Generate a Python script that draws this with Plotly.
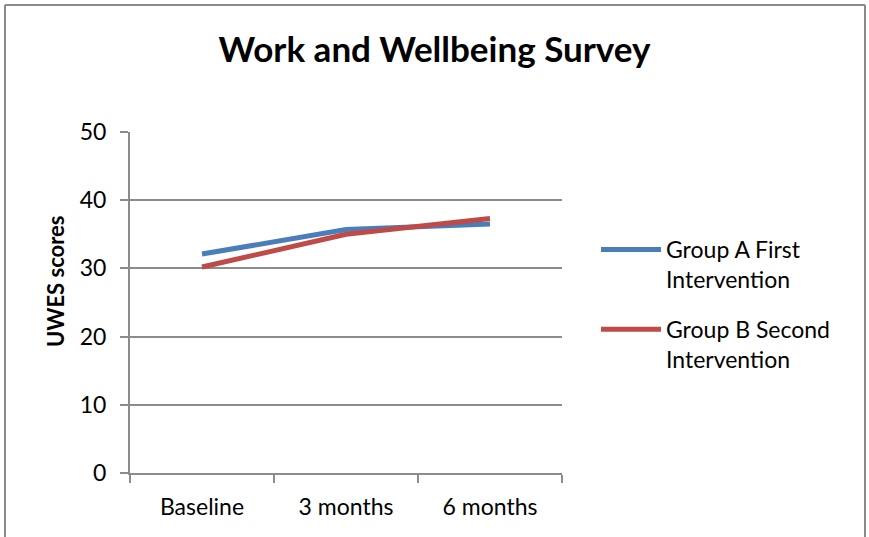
import plotly.graph_objects as go

categories = ["Baseline", "3 months", "6 months"]
group_a = [32.1, 35.7, 36.5]
group_b = [30.2, 35.0, 37.3]
series_names = ["Group A First<br>Intervention", "Group B Second<br>Intervention"]
y_ticks = [0, 10, 20, 30, 40, 50]

W, H = 869, 537
L, R, T, B = 130, 307, 132, 64
pw, ph = W - L - R, H - T - B

def px_x(x):
    return (x - L) / pw

def px_y(y):
    return (H - B - y) / ph

FONT = "Lato"
GRID = "#8c8c8c"
FS = 23

fig = go.Figure()
fig.add_trace(go.Scatter(x=categories, y=group_a, mode="lines", name=series_names[0],
                         legendgroup="a", line=dict(color="#4A7EBB", width=5)))
fig.add_trace(go.Scatter(x=categories, y=group_b, mode="lines", name=series_names[1],
                         legendgroup="b", line=dict(color="#BE4B48", width=5)))

fig.update_layout(
    width=W, height=H,
    margin=dict(l=L, r=R, t=T, b=B),
    paper_bgcolor="white", plot_bgcolor="white",
    font=dict(family=FONT, size=FS, color="black"),
    title=dict(text="<b>Work and Wellbeing Survey</b>", x=0.5, xref="container",
               xanchor="center", y=1 - 50 / H, yanchor="middle",
               font=dict(family=FONT, size=35, color="black")),
    showlegend=True,
    legend=dict(x=px_x(596), y=px_y(228), xanchor="left", yanchor="top",
                font=dict(family=FONT, size=FS), tracegroupgap=17, valign="top",
                itemwidth=60, bgcolor="rgba(0,0,0,0)"),
    xaxis=dict(type="category", range=[-0.5, 2.5], showgrid=False,
               showline=True, linecolor=GRID, linewidth=2,
               ticks="outside", tickson="boundaries", ticklen=8, tickwidth=2,
               tickcolor=GRID, ticklabelstandoff=12,
               tickfont=dict(family=FONT, size=FS)),
    yaxis=dict(range=[0, 50], tickvals=y_ticks, showgrid=True, gridcolor=GRID,
               gridwidth=2, zeroline=False, showline=True, linecolor=GRID, linewidth=2,
               ticks="outside", ticklen=8, tickwidth=2, tickcolor=GRID,
               ticklabelstandoff=9, tickfont=dict(family=FONT, size=FS)),
    annotations=[dict(text="<b>UWES scores</b>", textangle=-90, xref="paper", yref="paper",
                      x=px_x(55), y=px_y(281), xanchor="center",
                      yanchor="middle", showarrow=False,
                      font=dict(family=FONT, size=22, color="black"))],
    shapes=[
        dict(type="line", xref="paper", yref="paper", x0=px_x(5), x1=px_x(5),
             y0=px_y(5), y1=px_y(540), line=dict(color="#8a8a8a", width=2)),
        dict(type="line", xref="paper", yref="paper", x0=px_x(5), x1=px_x(865),
             y0=px_y(5), y1=px_y(5), line=dict(color="#8a8a8a", width=2)),
        dict(type="line", xref="paper", yref="paper", x0=px_x(865), x1=px_x(865),
             y0=px_y(5), y1=px_y(540), line=dict(color="#8a8a8a", width=2)),
    ],
)

fig.write_html("out.html")
